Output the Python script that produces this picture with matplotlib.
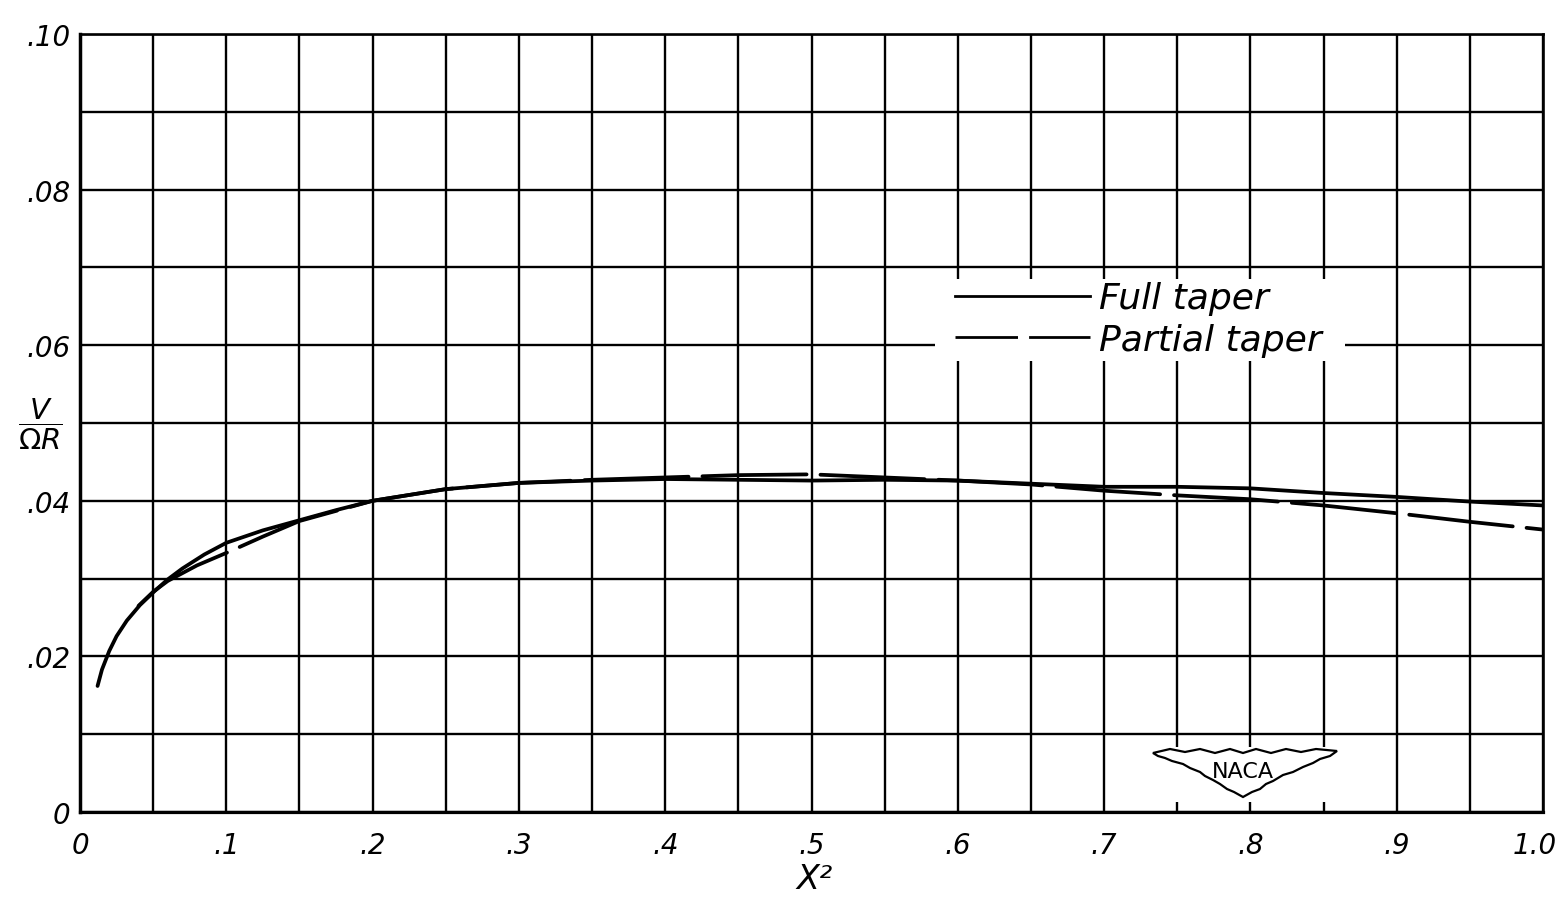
import matplotlib
matplotlib.use("Agg")
import matplotlib.pyplot as plt
from matplotlib.lines import Line2D
from matplotlib.patches import Rectangle, Polygon
from matplotlib.ticker import MultipleLocator, FixedLocator
from matplotlib.transforms import ScaledTranslation

plt.rcParams['font.family'] = ['DejaVu Sans']
plt.rcParams['lines.scale_dashes'] = False
plt.rcParams['mathtext.fontset'] = 'dejavusans'

# ---- data ----
full_x = [0.012, 0.015, 0.020, 0.025, 0.032, 0.041, 0.051, 0.060, 0.070, 0.085, 0.100,
          0.125, 0.150, 0.175, 0.200, 0.250, 0.300, 0.350, 0.400, 0.450, 0.500,
          0.550, 0.600, 0.650, 0.700, 0.750, 0.800, 0.850, 0.900, 0.950, 1.000]
full_y = [0.0162, 0.0183, 0.0207, 0.0226, 0.0246, 0.0266, 0.0284, 0.0299, 0.0313, 0.0331, 0.0346,
          0.0362, 0.0375, 0.0388, 0.0400, 0.0415, 0.0423, 0.0426, 0.0428, 0.0427, 0.0426,
          0.0427, 0.0426, 0.0422, 0.0418, 0.0418, 0.0416, 0.0410, 0.0405, 0.0399, 0.0394]

partial_x = [0.040, 0.050, 0.060, 0.070, 0.080, 0.090, 0.100, 0.125, 0.150, 0.200,
             0.250, 0.300, 0.350, 0.400, 0.450, 0.500, 0.550, 0.600, 0.650, 0.700,
             0.750, 0.800, 0.850, 0.900, 0.950, 1.000]
partial_y = [0.0265, 0.0283, 0.0297, 0.0307, 0.0317, 0.0325, 0.0333, 0.0354, 0.0374, 0.0400,
             0.0415, 0.0423, 0.0427, 0.0430, 0.0433, 0.0434, 0.0430, 0.0426, 0.0421, 0.0413,
             0.0407, 0.0402, 0.0394, 0.0384, 0.0373, 0.0363]

x_ticks = [0.0, 0.1, 0.2, 0.3, 0.4, 0.5, 0.6, 0.7, 0.8, 0.9, 1.0]
x_tick_labels = ['0', '.1', '.2', '.3', '.4', '.5', '.6', '.7', '.8', '.9', '1.0']
y_ticks = [0.0, 0.02, 0.04, 0.06, 0.08, 0.10]
y_tick_labels = ['0', '.02', '.04', '.06', '.08', '.10']
series_labels = ['Full taper', 'Partial taper']

# ---- figure ----
W, H = 1560, 903
fig = plt.figure(figsize=(W / 100, H / 100), dpi=100)
ax = fig.add_axes([80 / W, 1 - 813 / H, 1463 / W, 778 / H])

ax.set_xlim(0, 1.0)
ax.set_ylim(0, 0.10)

ax.xaxis.set_major_locator(FixedLocator(x_ticks))
ax.yaxis.set_major_locator(FixedLocator(y_ticks))
ax.xaxis.set_minor_locator(MultipleLocator(0.05))
ax.yaxis.set_minor_locator(MultipleLocator(0.01))
ax.set_xticklabels(x_tick_labels, fontsize=20, style='italic')
ax.set_yticklabels(y_tick_labels, fontsize=20, style='italic')
ax.tick_params(axis='both', which='both', length=0)
ax.tick_params(axis='x', pad=14)
ax.tick_params(axis='y', pad=7)

# keep the last x label ("1.0") inside the figure
last = ax.get_xticklabels()[-1]
last.set_horizontalalignment('right')
last.set_transform(last.get_transform() + ScaledTranslation(14 / 100, 0, fig.dpi_scale_trans))

ax.set_axisbelow(True)
ax.grid(True, which='both', color='black', linewidth=1.7)
for side, sp in ax.spines.items():
    sp.set_color('black')
    sp.set_linewidth(1.9)
ax.spines['left'].set_linewidth(2.5)
ax.spines['bottom'].set_linewidth(2.3)

# curves
ax.plot(full_x, full_y, color='black', lw=2.7, solid_capstyle='round', zorder=3)
ax.plot(partial_x, partial_y, color='black', lw=2.7, dashes=(75, 10),
        dash_capstyle='round', zorder=3)

# white area behind the legend
ax.add_patch(Rectangle((0.5844, 0.0580), 0.2803, 0.0105, facecolor='white',
                       edgecolor='none', zorder=2))

handles = [Line2D([], [], color='black', lw=2.0),
           Line2D([], [], color='black', lw=2.0, dashes=(45, 8))]
leg = ax.legend(handles, series_labels, loc='upper left',
                bbox_to_anchor=(0.598, 0.682), frameon=False,
                prop={'size': 26, 'style': 'italic'},
                handlelength=3.74, handletextpad=0.25, labelspacing=0.2,
                borderpad=0, borderaxespad=0)
leg.set_zorder(5)

# labels
ax.set_xlabel('X\u00b2', fontsize=24, style='italic')
ax.xaxis.set_label_coords(0.502, -0.086)
ax.xaxis.label.set_va('center')
ax.set_ylabel(r'$\dfrac{V}{\mathregular{\Omega} R}$', fontsize=21,
              rotation=0, ha='center', va='center')
ax.yaxis.set_label_coords(-0.027, 0.499)

# NACA emblem (decoration), drawn in pixel offsets about its centre
cx_px, cy_px = 1243, 772


def px_to_data(px, py):
    return ((px - 80) / 1463, (813 - py) / 778 * 0.1)


ax.add_patch(Rectangle(px_to_data(1140, 803), 205 / 1463, 55 / 778 * 0.1,
                       facecolor='white', edgecolor='none', zorder=2))
outline_px = [(1153, 754), (1170, 750), (1185, 753), (1200, 750), (1215, 754),
              (1230, 750), (1243, 754), (1256, 750), (1271, 754), (1286, 750),
              (1301, 753), (1316, 750), (1337, 752),
              (1330, 757), (1320, 760), (1313, 764), (1303, 768), (1293, 773),
              (1283, 776), (1273, 782), (1266, 785), (1260, 790), (1252, 793),
              (1243, 798),
              (1234, 793), (1227, 790), (1220, 785), (1213, 781), (1205, 777),
              (1200, 773), (1190, 769), (1183, 765), (1172, 762), (1165, 759),
              (1158, 757)]
ax.add_patch(Polygon([px_to_data(px, py) for px, py in outline_px], closed=True,
                     facecolor='white', edgecolor='black', lw=1.6, zorder=3))
tx, ty = px_to_data(cx_px, cy_px)
ax.text(tx, ty, 'NACA', fontsize=16, ha='center', va='center', zorder=4)

fig.savefig('out.png', dpi=100, facecolor='white')
